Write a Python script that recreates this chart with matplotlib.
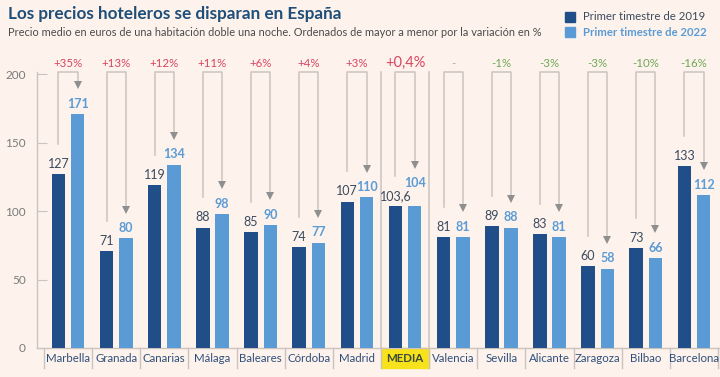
import numpy as np
import matplotlib.pyplot as plt

ciudades = ["Marbella", "Granada", "Canarias", "Málaga", "Baleares", "Córdoba", "Madrid",
            "MEDIA", "Valencia", "Sevilla", "Alicante", "Zaragoza", "Bilbao", "Barcelona"]
precio_2019 = [127, 71, 119, 88, 85, 74, 107, 103.6, 81, 89, 83, 60, 73, 133]
precio_2022 = [171, 80, 134, 98, 90, 77, 110, 104, 81, 88, 81, 58, 66, 112]
etiqueta_2019 = ["127", "71", "119", "88", "85", "74", "107", "103,6", "81", "89", "83", "60", "73", "133"]
etiqueta_2022 = ["171", "80", "134", "98", "90", "77", "110", "104", "81", "88", "81", "58", "66", "112"]
variacion = ["+35%", "+13%", "+12%", "+11%", "+6%", "+4%", "+3%", "+0,4%",
             "-", "-1%", "-3%", "-3%", "-10%", "-16%"]

plt.rcParams['font.family'] = ['Lato', 'DejaVu Sans']

fondo = '#fdf3ec'
azul_osc = '#1f4e89'
azul_cla = '#5b9bd5'
gris_linea = '#cbc3bf'

fig = plt.figure(figsize=(7.2, 3.77), dpi=100, facecolor=fondo)
ax = fig.add_axes([37 / 720, 1 - 348 / 377, 683 / 720, (348 - 55) / 377])
ax.set_facecolor(fondo)

x = np.arange(len(ciudades))
off = 0.2
w = 0.28
ax.bar(x - off, precio_2019, w, color=azul_osc, zorder=3)
ax.bar(x + off, precio_2022, w, color=azul_cla, zorder=3)

for i in range(len(ciudades)):
    v1 = precio_2019[i]
    v2 = precio_2022[i]
    extra = 9 if ciudades[i] == "MEDIA" else 0
    ax.text(x[i] - off, v1 + 3, etiqueta_2019[i], ha='center', va='bottom',
            fontsize=9, color='#3b4a5e')
    ax.text(x[i] + off, v2 + 3 + extra, etiqueta_2022[i], ha='center', va='bottom',
            fontsize=9, color=azul_cla, fontweight='bold')
    # corchete con flecha
    top = 201.5
    tip = v2 + 19 + extra
    ax.plot([x[i] - off, x[i] - off, x[i] + off, x[i] + off],
            [v1 + 22, top, top, tip + 3], color=gris_linea, lw=1.1, zorder=2)
    ax.plot(x[i] + off, tip + 2, marker='v', markersize=6, color='#8f8f8f',
            markeredgewidth=0, zorder=2)
    txt = variacion[i]
    if txt.startswith('+'):
        col = '#d9455f'
    elif txt == '-':
        col = '#b5a3a3'
    else:
        col = '#6fa757'
    fs = 10.5 if ciudades[i] == "MEDIA" else 8.3
    ax.text(x[i], 208, txt, ha='center', va='center', fontsize=fs, color=col)

# separadores de categorias bajo el eje
for b in np.arange(-0.5, len(ciudades), 1.0):
    ax.plot([b, b], [0, -14.5], color=gris_linea, lw=1, clip_on=False)
for b in [6.5, 7.5]:
    ax.plot([b, b], [0, 201.5], color=gris_linea, lw=1.1, zorder=1)

# etiqueta MEDIA resaltada
ax.add_patch(plt.Rectangle((6.5, -14.5), 1, 14.5, color='#f7e21b', clip_on=False, zorder=1))
for i, c in enumerate(ciudades):
    if c == "MEDIA":
        ax.text(i, -7.5, c, ha='center', va='center', fontsize=8.3, color='#3b4a3a', fontweight='bold')
    else:
        ax.text(i, -7.5, c, ha='center', va='center', fontsize=8.3, color='#2e4f7c')

ax.set_xlim(-0.645, 13.54)
ax.set_ylim(0, 214)
for s in ['top', 'right', 'bottom', 'left']:
    ax.spines[s].set_visible(False)
ax.plot([-0.645, 13.54], [0, 0], color=gris_linea, lw=1, clip_on=False)
ax.plot([-0.645, -0.645], [0, 201.5], color=gris_linea, lw=1, clip_on=False)
ax.set_xticks([])
ax.set_yticks([0, 50, 100, 150, 200])
ax.tick_params(axis='y', direction='in', length=7, color=gris_linea, labelsize=8.5,
               labelcolor='#7a7a7a', pad=8)

fig.text(8 / 720, 1 - 14 / 377, "Los precios hoteleros se disparan en España", fontsize=12.3,
         fontweight='bold', color='#1f4e79', va='center')
fig.text(8 / 720, 1 - 33 / 377,
         "Precio medio en euros de una habitación doble una noche. Ordenados de mayor a menor por la variación en %",
         fontsize=7.9, color='#4a4a4a', va='center')

fig.patches.append(plt.Rectangle((565 / 720, 1 - 22 / 377), 10 / 720, 10 / 377, color=azul_osc,
                                 transform=fig.transFigure, figure=fig))
fig.patches.append(plt.Rectangle((565 / 720, 1 - 37 / 377), 10 / 720, 10 / 377, color=azul_cla,
                                 transform=fig.transFigure, figure=fig))
fig.text(583 / 720, 1 - 17 / 377, "Primer timestre de 2019", fontsize=8.2, color='#3b4a5e', va='center')
fig.text(583 / 720, 1 - 32 / 377, "Primer timestre de 2022", fontsize=8.2, color=azul_cla,
         fontweight='bold', va='center')

plt.savefig('out.png', dpi=100, facecolor=fondo)
